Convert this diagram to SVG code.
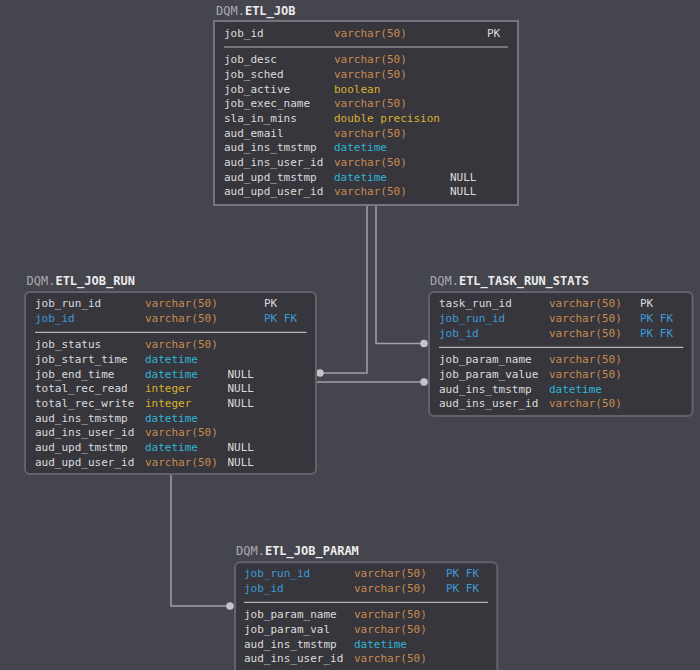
<svg xmlns="http://www.w3.org/2000/svg" width="700" height="670" viewBox="0 0 700 670">
<style>
text{font-family:"DejaVu Sans Mono","Liberation Mono",monospace;font-size:11px;fill:#dcdcdc}
.ttl{font-size:12px}
.sch{fill:#a8a8b0}
.tn{fill:#ececec;font-weight:bold}
.fk{fill:#3d9bd8}
.v{fill:#c98a4e}
.b{fill:#d6b22c}
.d{fill:#2fb4d4}
.box{fill:#36363c;stroke:#62626a;stroke-width:2}
.sel{stroke:#74747c}
.sep{stroke:#b4b4ba;stroke-width:1.2}
.con{fill:none;stroke:#a0a0a8;stroke-width:1.5}
.dot{fill:#c4c4ca}
</style>
<rect width="700" height="670" fill="#45454d"/>
<g id="connectors">
<path class="con" d="M367,205 V373 H320"/>
<circle class="dot" cx="320" cy="373" r="3.8"/>
<path class="con" d="M376,205 V343.5 H424"/>
<circle class="dot" cx="424" cy="343.5" r="3.8"/>
<path class="con" d="M317,382 H424"/>
<circle class="dot" cx="424" cy="382" r="3.8"/>
<path class="con" d="M171,474 V606 H230"/>
<circle class="dot" cx="230" cy="606" r="3.8"/>
</g>
<g id="etl_job">
<text class="ttl" x="216" y="14.7"><tspan class="sch">DQM.</tspan><tspan class="tn">ETL_JOB</tspan></text>
<rect class="box sel" x="214" y="21" width="304" height="184"/>
<text x="224" y="37">job_id</text><text class="v" x="334" y="37">varchar(50)</text><text x="487" y="37">PK</text>
<line class="sep" x1="224" y1="47" x2="508" y2="47"/>
<text x="224" y="63.3">job_desc</text><text class="v" x="334" y="63.3">varchar(50)</text>
<text x="224" y="78">job_sched</text><text class="v" x="334" y="78">varchar(50)</text>
<text x="224" y="92.7">job_active</text><text class="b" x="334" y="92.7">boolean</text>
<text x="224" y="107.3">job_exec_name</text><text class="v" x="334" y="107.3">varchar(50)</text>
<text x="224" y="122">sla_in_mins</text><text class="b" x="334" y="122">double precision</text>
<text x="224" y="136.7">aud_email</text><text class="v" x="334" y="136.7">varchar(50)</text>
<text x="224" y="151.3">aud_ins_tmstmp</text><text class="d" x="334" y="151.3">datetime</text>
<text x="224" y="166">aud_ins_user_id</text><text class="v" x="334" y="166">varchar(50)</text>
<text x="224" y="180.7">aud_upd_tmstmp</text><text class="d" x="334" y="180.7">datetime</text><text x="450" y="180.7">NULL</text>
<text x="224" y="195.3">aud_upd_user_id</text><text class="v" x="334" y="195.3">varchar(50)</text><text x="450" y="195.3">NULL</text>
</g>
<g id="etl_job_run">
<text class="ttl" x="26.5" y="284.7"><tspan class="sch">DQM.</tspan><tspan class="tn">ETL_JOB_RUN</tspan></text>
<rect class="box" x="25" y="292" width="291" height="182" rx="5"/>
<text x="35" y="307.3">job_run_id</text><text class="v" x="145" y="307.3">varchar(50)</text><text x="264" y="307.3">PK</text>
<text class="fk" x="35" y="322">job_id</text><text class="v" x="145" y="322">varchar(50)</text><text class="fk" x="264" y="322">PK FK</text>
<line class="sep" x1="35" y1="332.3" x2="306.5" y2="332.3"/>
<text x="35" y="348.3">job_status</text><text class="v" x="145" y="348.3">varchar(50)</text>
<text x="35" y="363">job_start_time</text><text class="d" x="145" y="363">datetime</text>
<text x="35" y="377.7">job_end_time</text><text class="d" x="145" y="377.7">datetime</text><text x="227.5" y="377.7">NULL</text>
<text x="35" y="392.4">total_rec_read</text><text class="b" x="145" y="392.4">integer</text><text x="227.5" y="392.4">NULL</text>
<text x="35" y="407">total_rec_write</text><text class="b" x="145" y="407">integer</text><text x="227.5" y="407">NULL</text>
<text x="35" y="421.7">aud_ins_tmstmp</text><text class="d" x="145" y="421.7">datetime</text>
<text x="35" y="436.4">aud_ins_user_id</text><text class="v" x="145" y="436.4">varchar(50)</text>
<text x="35" y="451">aud_upd_tmstmp</text><text class="d" x="145" y="451">datetime</text><text x="227.5" y="451">NULL</text>
<text x="35" y="465.7">aud_upd_user_id</text><text class="v" x="145" y="465.7">varchar(50)</text><text x="227.5" y="465.7">NULL</text>
</g>
<g id="etl_task_run_stats">
<text class="ttl" x="430" y="284.7"><tspan class="sch">DQM.</tspan><tspan class="tn">ETL_TASK_RUN_STATS</tspan></text>
<rect class="box" x="429" y="292" width="263.5" height="124" rx="5"/>
<text x="439" y="307.3">task_run_id</text><text class="v" x="549" y="307.3">varchar(50)</text><text x="640" y="307.3">PK</text>
<text class="fk" x="439" y="322">job_run_id</text><text class="v" x="549" y="322">varchar(50)</text><text class="fk" x="640" y="322">PK FK</text>
<text class="fk" x="439" y="336.7">job_id</text><text class="v" x="549" y="336.7">varchar(50)</text><text class="fk" x="640" y="336.7">PK FK</text>
<line class="sep" x1="439" y1="347.3" x2="683.3" y2="347.3"/>
<text x="439" y="363.3">job_param_name</text><text class="v" x="549" y="363.3">varchar(50)</text>
<text x="439" y="378">job_param_value</text><text class="v" x="549" y="378">varchar(50)</text>
<text x="439" y="392.7">aud_ins_tmstmp</text><text class="d" x="549" y="392.7">datetime</text>
<text x="439" y="407.3">aud_ins_user_id</text><text class="v" x="549" y="407.3">varchar(50)</text>
</g>
<g id="etl_job_param">
<text class="ttl" x="236" y="554.7"><tspan class="sch">DQM.</tspan><tspan class="tn">ETL_JOB_PARAM</tspan></text>
<rect class="box" x="235" y="562.3" width="262.3" height="120" rx="5"/>
<text class="fk" x="244" y="577.3">job_run_id</text><text class="v" x="354" y="577.3">varchar(50)</text><text class="fk" x="446" y="577.3">PK FK</text>
<text class="fk" x="244" y="592">job_id</text><text class="v" x="354" y="592">varchar(50)</text><text class="fk" x="446" y="592">PK FK</text>
<line class="sep" x1="244" y1="602.3" x2="488" y2="602.3"/>
<text x="244" y="618.3">job_param_name</text><text class="v" x="354" y="618.3">varchar(50)</text>
<text x="244" y="633">job_param_val</text><text class="v" x="354" y="633">varchar(50)</text>
<text x="244" y="647.7">aud_ins_tmstmp</text><text class="d" x="354" y="647.7">datetime</text>
<text x="244" y="662.3">aud_ins_user_id</text><text class="v" x="354" y="662.3">varchar(50)</text>
</g>
</svg>
